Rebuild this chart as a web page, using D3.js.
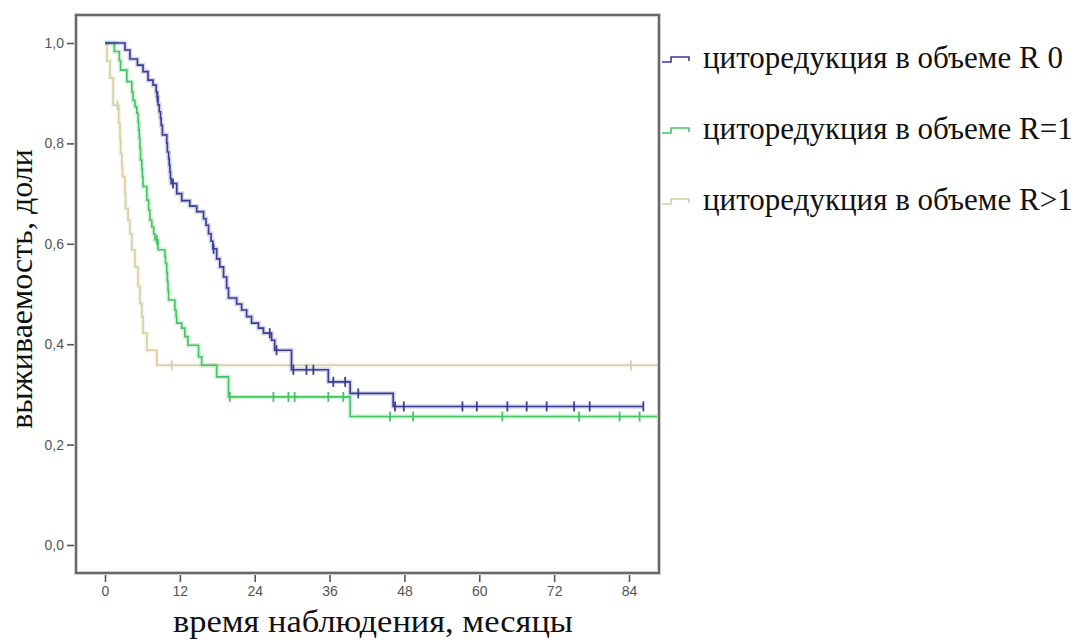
<!DOCTYPE html>
<html>
<head>
<meta charset="utf-8">
<script src="https://cdn.jsdelivr.net/npm/d3@7/dist/d3.min.js"></script>
<style>
  html, body { margin: 0; padding: 0; background: #fff; }
  svg { display: block; }
</style>
</head>
<body>
<svg id="chart" width="1083" height="642"></svg>
<script>
// Kaplan–Meier survival by cytoreduction volume

const monthTicks = [0, 12, 24, 36, 48, 60, 72, 84];
const survivalTicks = [0, 0.2, 0.4, 0.6, 0.8, 1.0];

const groupNames = [
  "циторедукция в объеме R 0",
  "циторедукция в объеме R=1",
  "циторедукция в объеме R>1"
];
const groupColors = ["#393d96", "#45c462", "#d6cfa4"];

// R 0: event times (months) and survival after each event
const r0Times = [3.2, 4.0, 5.2, 6.1, 6.9, 7.7, 8.2, 8.35, 8.5, 8.7, 8.9, 9.0, 9.2, 9.9, 10.0, 10.2, 10.3, 10.4, 10.5, 10.6,
  11.5, 12.3, 13.6, 14.7, 15.8, 16.2, 16.6, 17.0, 17.3, 17.9, 18.4, 19.0, 19.5, 19.8, 21.1, 21.9, 22.7, 23.5, 24.6, 25.4,
  26.7, 27.2, 29.9, 35.8, 39.3, 46.2];
const r0Surv = [0.986, 0.968, 0.956, 0.943, 0.926, 0.916, 0.903, 0.893, 0.877, 0.863, 0.85, 0.836, 0.817, 0.80, 0.783, 0.77, 0.757, 0.743, 0.73, 0.72,
  0.70, 0.686, 0.675, 0.664, 0.65, 0.637, 0.62, 0.605, 0.59, 0.57, 0.554, 0.534, 0.512, 0.492, 0.48, 0.468, 0.455, 0.442, 0.432, 0.422,
  0.408, 0.388, 0.349, 0.325, 0.302, 0.276];
const r0Censored = [8.4, 10.9, 17.4, 26.4, 27.5, 30.2, 32.3, 33.4, 36.6, 38.5, 40.6, 46.5, 47.9, 57.3, 59.6, 64.5, 67.6, 70.8, 75.2, 77.7, 86.3];
const r0LastFollowUp = 86.3;

// R=1
const r1Times = [1.5, 2.3, 2.5, 3.5, 4.3, 4.5, 4.8, 5.1, 5.3, 5.4, 5.5, 5.6, 5.7, 5.9, 6.0, 6.1, 6.7, 7.0, 7.2, 7.5, 7.8, 8.0,
  8.5, 9.6, 9.7, 9.9, 10.0, 10.1, 10.2, 11.2, 11.4, 11.5, 12.3, 12.8, 13.3, 15.0, 15.5, 17.9, 19.8, 39.3];
const r1Surv = [0.983, 0.965, 0.946, 0.923, 0.903, 0.886, 0.873, 0.86, 0.843, 0.827, 0.81, 0.79, 0.767, 0.75, 0.733, 0.714, 0.687, 0.667, 0.647, 0.634, 0.62, 0.608,
  0.588, 0.575, 0.561, 0.543, 0.525, 0.507, 0.488, 0.468, 0.455, 0.442, 0.432, 0.415, 0.398, 0.375, 0.358, 0.335, 0.295, 0.256];
const r1Censored = [8.3, 20.0, 27.0, 29.4, 30.4, 35.8, 38.2, 45.7, 49.4, 63.7, 76.0, 82.5, 85.7];
const r1LastFollowUp = 90;

// R>1
const r2Times = [0.3, 0.8, 1.3, 2.2, 2.4, 2.5, 2.7, 2.8, 3.2, 3.3, 3.7, 4.0, 4.3, 4.8, 5.3, 5.6, 5.9, 6.1, 6.7, 8.3];
const r2Surv = [0.964, 0.93, 0.876, 0.84, 0.81, 0.78, 0.755, 0.734, 0.70, 0.67, 0.647, 0.62, 0.588, 0.554, 0.515, 0.481, 0.455, 0.422, 0.388, 0.358];
const r2Censored = [2.0, 10.7, 84.3];
const r2LastFollowUp = 90;

const groups = [
  { times: r0Times, surv: r0Surv, censored: r0Censored, last: r0LastFollowUp },
  { times: r1Times, surv: r1Surv, censored: r1Censored, last: r1LastFollowUp },
  { times: r2Times, surv: r2Surv, censored: r2Censored, last: r2LastFollowUp }
];

const svg = d3.select("#chart");
const serif = "'Liberation Serif', 'Times New Roman', serif";

// plot frame (pixels) and scales
const frame = { left: 76, top: 15, right: 659, bottom: 573 };
const x = d3.scaleLinear().domain([0, 84]).range([105, 629]);
const y = d3.scaleLinear().domain([0, 1]).range([545, 43]);

svg.append("defs").append("clipPath").attr("id", "plotClip")
  .append("rect")
  .attr("x", frame.left).attr("y", frame.top)
  .attr("width", frame.right - frame.left).attr("height", frame.bottom - frame.top);

// axes
const xAxis = svg.append("g")
  .attr("transform", `translate(0,${frame.bottom})`)
  .call(d3.axisBottom(x).tickValues(monthTicks).tickSize(9).tickPadding(4).tickFormat(d3.format("d")));
const yAxis = svg.append("g")
  .attr("transform", `translate(${frame.left},0)`)
  .call(d3.axisLeft(y).tickValues(survivalTicks).tickSize(9).tickPadding(3)
    .tickFormat(d => d3.format(".1f")(d).replace(".", ",")));

[xAxis, yAxis].forEach(g => {
  g.select(".domain").remove();
  g.selectAll(".tick line").attr("stroke", "#555").attr("stroke-width", 1.6);
  g.selectAll(".tick text")
    .attr("fill", "#555")
    .style("font-family", "'Liberation Sans', Arial, sans-serif")
    .style("font-size", "14px");
});

// step curves
const stepLine = d3.line()
  .x(d => x(d[0]))
  .y(d => y(d[1]))
  .curve(d3.curveStepAfter);

function stepPoints(g) {
  const pts = [[0, 1]];
  g.times.forEach((t, i) => pts.push([t, g.surv[i]]));
  pts.push([g.last, g.surv[g.surv.length - 1]]);
  return pts;
}

function survivalAt(g, t) {
  let s = 1;
  g.times.forEach((ti, i) => { if (ti <= t) s = g.surv[i]; });
  return s;
}

const plot = svg.append("g").attr("clip-path", "url(#plotClip)");

// draw in back-to-front order: R>1, R=1, R 0
[2, 1, 0].forEach(k => {
  const g = groups[k];
  const color = groupColors[k];
  const pts = stepPoints(g);
  plot.append("path")
    .attr("d", stepLine(pts))
    .attr("fill", "none")
    .attr("stroke", color)
    .attr("stroke-opacity", 0.22)
    .attr("stroke-width", 4.5);
  plot.append("path")
    .attr("d", stepLine(pts))
    .attr("fill", "none")
    .attr("stroke", color)
    .attr("stroke-width", 1.6);
  plot.selectAll(null)
    .data(g.censored)
    .enter().append("line")
    .attr("x1", d => x(d)).attr("x2", d => x(d))
    .attr("y1", d => y(survivalAt(g, d)) - 5)
    .attr("y2", d => y(survivalAt(g, d)) + 5)
    .attr("stroke", color)
    .attr("stroke-width", 1.8);
});

// frame
svg.append("rect")
  .attr("x", frame.left).attr("y", frame.top)
  .attr("width", frame.right - frame.left).attr("height", frame.bottom - frame.top)
  .attr("fill", "none")
  .attr("stroke", "#cfcfcf")
  .attr("stroke-width", 4);
svg.append("rect")
  .attr("x", frame.left).attr("y", frame.top)
  .attr("width", frame.right - frame.left).attr("height", frame.bottom - frame.top)
  .attr("fill", "none")
  .attr("stroke", "#5c5c5c")
  .attr("stroke-width", 1.8);

// axis titles
svg.append("text")
  .attr("x", 373).attr("y", 632)
  .attr("text-anchor", "middle")
  .attr("textLength", 400)
  .attr("lengthAdjust", "spacingAndGlyphs")
  .style("font-family", serif)
  .style("font-size", "31px")
  .attr("fill", "#111")
  .text("время наблюдения, месяцы");

svg.append("text")
  .attr("transform", "translate(32,289) rotate(-90)")
  .attr("text-anchor", "middle")
  .style("font-family", serif)
  .style("font-size", "32px")
  .attr("fill", "#111")
  .text("выживаемость, доли");

// legend
const legendRowsY = [68, 139, 210];
const legend = svg.append("g");
groupNames.forEach((name, k) => {
  const by = legendRowsY[k];
  legend.append("path")
    .attr("d", `M662,${by - 6} H671 V${by - 11} H689 V${by - 7}`)
    .attr("fill", "none")
    .attr("stroke", groupColors[k])
    .attr("stroke-width", 1.6);
  legend.append("text")
    .attr("x", 703).attr("y", by)
    .style("font-family", serif)
    .style("font-size", "31px")
    .attr("fill", "#111")
    .text(name);
});
</script>
</body>
</html>
